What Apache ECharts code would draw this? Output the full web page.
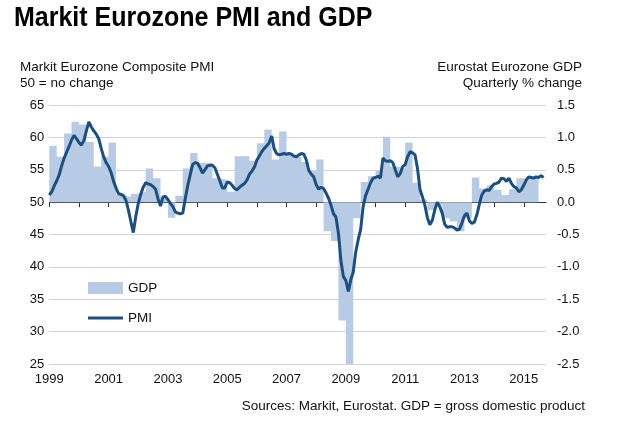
<!DOCTYPE html>
<html><head><meta charset="utf-8">
<script src="https://cdn.jsdelivr.net/npm/echarts@6/dist/echarts.min.js"></script>
<style>html,body{margin:0;padding:0;background:#fff}#c{width:640px;height:431px}</style>
</head><body><div id="c"></div>
<script>
// Monthly Markit Eurozone Composite PMI, Jan 1999 .. Sep 2015
const pmiStartYear = 1999;
const pmi = [
51.1,51.6,52.5,53.3,54.2,55.6,56.8,57.7,58.6,59.6,60.3,59.8,
59.2,58.8,59.5,61.0,62.4,61.6,61.0,60.5,59.8,58.3,57.0,56.1,
55.5,54.6,53.2,52.2,51.3,51.2,51.0,50.3,48.8,47.0,45.3,47.8,
49.8,51.2,52.3,53.0,52.8,52.7,52.4,52.0,50.5,49.4,50.8,50.9,
50.4,49.8,49.3,48.5,48.3,48.2,48.3,50.5,52.5,54.2,55.8,56.1,
56.0,55.3,54.5,55.0,55.6,55.7,55.7,55.3,54.3,53.3,52.2,52.2,
53.1,53.0,52.6,52.1,51.9,52.3,52.6,52.9,53.4,54.3,54.8,55.4,
56.5,57.1,57.8,58.3,58.7,59.2,60.2,58.2,57.5,57.3,57.4,57.5,
57.4,57.5,57.4,57.1,57.0,57.3,57.5,57.4,56.5,54.9,54.3,53.9,
52.7,52.0,52.3,52.1,51.4,50.6,49.5,48.2,47.7,45.2,41.0,38.5,
37.9,36.2,38.0,39.2,42.3,44.2,45.8,49.3,51.0,52.0,53.0,53.7,
53.8,54.0,53.7,56.8,56.4,56.3,56.4,56.1,55.0,53.9,54.4,55.5,
55.8,57.0,57.8,57.6,57.3,55.2,52.0,50.8,49.5,47.6,46.5,47.2,
48.8,50.0,49.3,48.3,46.6,46.1,46.2,46.2,46.0,45.7,45.8,46.8,
47.9,48.3,47.1,46.7,46.9,48.0,49.6,51.1,51.7,51.9,51.8,52.4,
52.8,52.9,53.1,53.7,53.6,53.2,53.7,52.9,52.4,52.2,51.6,51.9,
52.6,53.4,53.9,53.8,53.7,53.9,53.8,54.1,53.8
];
// Quarterly Eurostat Eurozone GDP % change, 1999Q1 .. 2015Q2
const gdp = [
0.87,0.70,1.06,1.24,
1.20,0.93,0.55,0.70,
0.92,0.11,0.08,0.13,
0.16,0.52,0.37,0.08,
-0.24,0.10,0.52,0.76,
0.61,0.60,0.37,0.34,
0.16,0.71,0.71,0.64,
0.91,1.12,0.66,1.09,
0.74,0.70,0.62,0.48,
0.66,-0.45,-0.60,-1.83,
-2.90,-0.25,0.31,0.40,
0.48,1.01,0.55,0.52,
0.92,0.30,0.04,-0.12,
-0.05,-0.25,-0.30,-0.45,
-0.25,0.38,0.21,0.26,
0.19,0.11,0.20,0.37,
0.38,0.38
];
const xTickYears = [1999,2001,2003,2005,2007,2009,2011,2013,2015];
const leftTicks = [25,30,35,40,45,50,55,60,65];
const rightTicks = [-2.5,-2.0,-1.5,-1.0,-0.5,0.0,0.5,1.0,1.5];

const pmiData = pmi.map((v,i)=>[pmiStartYear + i/12, v]);
const gdpData = gdp.map((v,i)=>[pmiStartYear + i/4, v]);
gdpData.push([pmiStartYear + gdp.length/4, gdp[gdp.length-1]]);

const FONT = 'Liberation Sans, Arial, sans-serif';
const GDP_COLOR = '#b7cbe5';
const PMI_COLOR = '#1c4f7d';
const chart = echarts.init(document.getElementById('c'), null, {renderer:'canvas'});
chart.setOption({
  animation:false,
  backgroundColor:'#fff',
  textStyle:{fontFamily:FONT},
  grid:{left:49.3, right:94, top:105, bottom:67, containLabel:false},
  legend:{
    orient:'vertical', left:88, top:281, itemWidth:35, itemHeight:12, itemGap:16,
    padding:0, symbolKeepAspect:true,
    textStyle:{fontSize:13.5, color:'#111', fontFamily:FONT},
    data:[
      {name:'GDP', icon:'rect', itemStyle:{color:GDP_COLOR, borderWidth:0}},
      {name:'PMI', icon:'path://M0,0 L35,0 L35,3 L0,3 Z', itemStyle:{color:PMI_COLOR, borderWidth:0}}
    ]
  },
  graphic:[
    {type:'text', left:14, top:4, scaleY:1.12, style:{text:'Markit Eurozone PMI and GDP', font:'bold 25px '+FONT, fill:'#000'}},
    {type:'text', left:20, top:60, style:{text:'Markit Eurozone Composite PMI', font:'13.5px '+FONT, fill:'#111'}},
    {type:'text', left:20, top:76, style:{text:'50 = no change', font:'13.5px '+FONT, fill:'#111'}},
    {type:'text', right:58, top:60, style:{text:'Eurostat Eurozone GDP', font:'13.5px '+FONT, fill:'#111', align:'right'}},
    {type:'text', right:58, top:76, style:{text:'Quarterly % change', font:'13.5px '+FONT, fill:'#111', align:'right'}},
    {type:'text', right:55, top:399, style:{text:'Sources: Markit, Eurostat. GDP = gross domestic product', font:'13.5px '+FONT, fill:'#111', align:'right'}}
  ],
  xAxis:{
    type:'value', min:1999, max:2015.75, interval:1,
    axisLine:{show:true, lineStyle:{color:'#333', width:1}},
    axisTick:{show:true, length:5, lineStyle:{color:'#333'}},
    splitLine:{show:false},
    axisLabel:{fontSize:13, color:'#111', margin:9, showMaxLabel:false,
      formatter:v=> xTickYears.includes(Math.round(v)) ? String(Math.round(v)) : ''}
  },
  yAxis:[
    {type:'value', min:25, max:65, interval:5, position:'left',
     axisLine:{show:false}, axisTick:{show:false},
     splitLine:{show:true, lineStyle:{color:'#d4d4d4', width:1}},
     axisLabel:{fontSize:13, color:'#111', margin:5, formatter:v=> leftTicks.includes(v)? String(v):''}},
    {type:'value', min:-2.5, max:1.5, interval:0.5, position:'right',
     axisLine:{show:false}, axisTick:{show:false}, splitLine:{show:false},
     axisLabel:{fontSize:13, color:'#111', margin:11, formatter:v=> v.toFixed(1)}}
  ],
  series:[
    {name:'GDP', type:'line', yAxisIndex:1, step:'end', data:gdpData,
     symbol:'none', lineStyle:{width:0, color:GDP_COLOR}, itemStyle:{color:GDP_COLOR},
     areaStyle:{color:GDP_COLOR, opacity:1}, z:1},
    {name:'PMI', type:'line', yAxisIndex:0, data:pmiData,
     symbol:'none', smooth:false, lineStyle:{width:3, color:PMI_COLOR}, itemStyle:{color:PMI_COLOR}, z:3}
  ]
});
</script></body></html>
